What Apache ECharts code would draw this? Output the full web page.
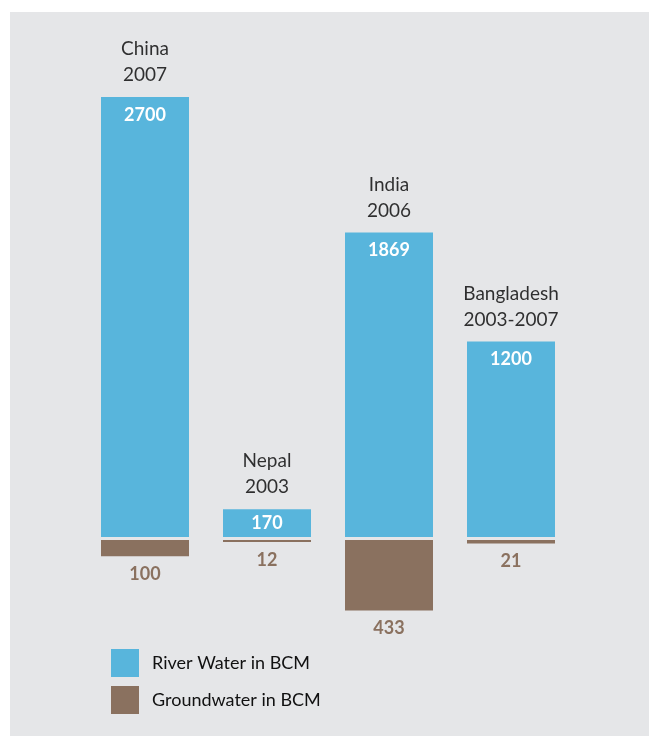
<!DOCTYPE html>
<html>
<head>
<meta charset="utf-8">
<script src="https://cdn.jsdelivr.net/npm/echarts@6/dist/echarts.min.js"></script>
<style>
  html, body { margin: 0; padding: 0; background: #ffffff; }
  #chart { width: 649px; height: 736px; }
</style>
</head>
<body>
<div id="chart"></div>
<script>
// Water withdrawals by country (billion cubic metres)
const countries = ['China\n2007', 'Nepal\n2003', 'India\n2006', 'Bangladesh\n2003-2007'];
const riverWater = [2700, 170, 1869, 1200];
const groundWater = [100, 12, 433, 21];
const seriesNames = ['River Water in BCM', 'Groundwater in BCM'];

const BLUE = '#58b5dc';
const BROWN = '#8a715f';
const FONT = 'Lato';

// Shared scale: river bars grow up from the baseline, groundwater bars hang below it
const riverMax = 2700;
const groundMax = 600;
const plotLeft = 84, plotWidth = 488;
const riverTop = 97, riverHeight = 440;
const groundTop = 540;
const groundHeight = riverHeight * groundMax / riverMax;

// Short bars keep their value label a little closer to the top edge
const riverData = riverWater.map(v => v < 300 ? { value: v, label: { distance: 5 } } : v);

const chart = echarts.init(document.getElementById('chart'));
chart.setOption({
  animation: false,
  backgroundColor: '#ffffff',
  graphic: [{
    type: 'rect',
    z: -10,
    silent: true,
    shape: { x: 10, y: 12, width: 639, height: 724 },
    style: { fill: '#e5e6e8' }
  }],
  grid: [
    { left: plotLeft, width: plotWidth, top: riverTop, height: riverHeight },
    { left: plotLeft, width: plotWidth, top: groundTop, height: groundHeight }
  ],
  xAxis: [
    { type: 'category', gridIndex: 0, data: countries, show: false },
    { type: 'category', gridIndex: 1, data: countries, show: false }
  ],
  yAxis: [
    { type: 'value', gridIndex: 0, min: 0, max: riverMax, show: false },
    { type: 'value', gridIndex: 1, min: 0, max: groundMax, inverse: true, show: false }
  ],
  legend: {
    orient: 'vertical',
    left: 106,
    top: 644,
    itemWidth: 28,
    itemHeight: 28,
    itemGap: 9,
    icon: 'rect',
    data: seriesNames,
    textStyle: { fontFamily: FONT, fontSize: 18, color: '#111111', padding: [0, 0, 0, 8] }
  },
  series: [
    {
      name: seriesNames[0],
      type: 'bar',
      xAxisIndex: 0, yAxisIndex: 0,
      barWidth: 88,
      data: riverData,
      itemStyle: { color: BLUE },
      label: {
        show: true, position: 'insideTop', distance: 9,
        color: '#ffffff', fontFamily: FONT, fontWeight: 'bold', fontSize: 18
      }
    },
    {
      name: 'country',
      type: 'scatter',
      xAxisIndex: 0, yAxisIndex: 0,
      symbolSize: 0,
      data: riverWater,
      silent: true,
      label: {
        show: true, position: 'top', distance: 9,
        formatter: p => countries[p.dataIndex],
        color: '#000000', fontFamily: FONT, fontSize: 19, lineHeight: 26
      }
    },
    {
      name: seriesNames[1],
      type: 'bar',
      xAxisIndex: 1, yAxisIndex: 1,
      barWidth: 88,
      data: groundWater,
      itemStyle: { color: BROWN },
      label: {
        show: true, position: 'bottom', distance: 9,
        color: BROWN, fontFamily: FONT, fontWeight: 'bold', fontSize: 18
      }
    }
  ]
});
</script>
</body>
</html>
